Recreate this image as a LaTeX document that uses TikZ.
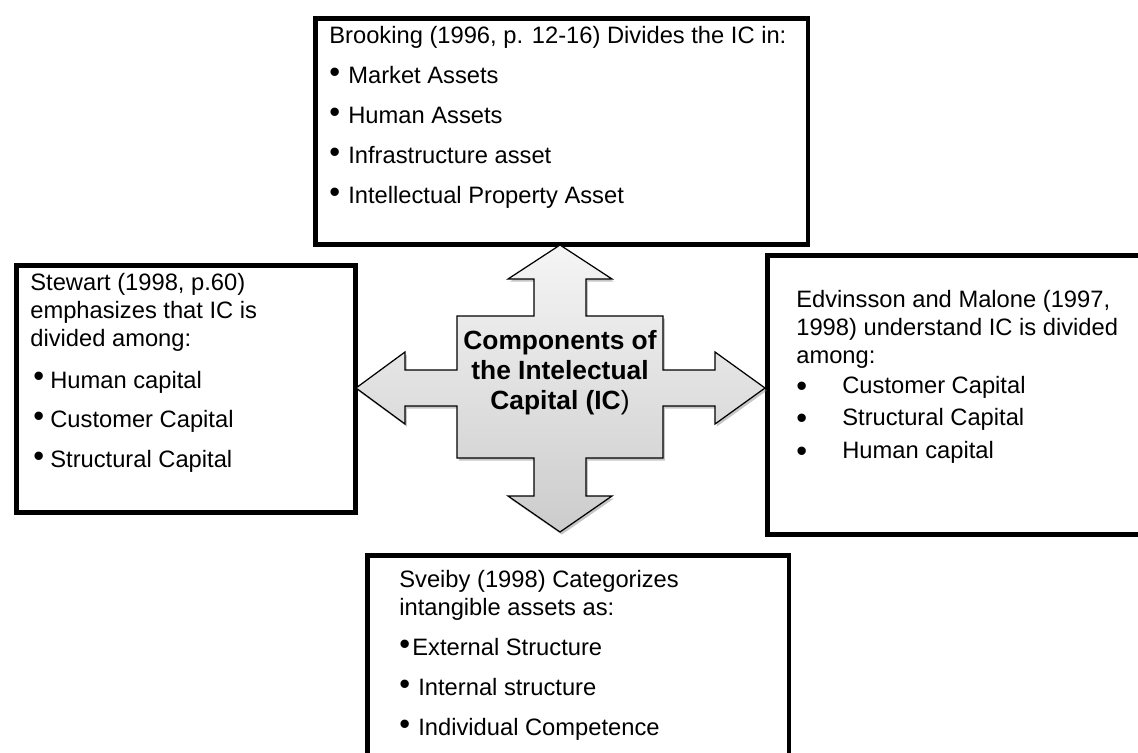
\documentclass[tikz,border=0pt]{standalone}
\usepackage{fontspec}
\setmainfont{Liberation Sans}
\usepackage{tikz}
\usetikzlibrary{positioning,shadows}

\newcommand{\hibullet}{\raisebox{0.6pt}{\scalebox{1.3}{\textbullet}}}
\newcommand{\lobullet}{\raisebox{-1.8pt}{\scalebox{1.3}{\textbullet}}}

\begin{document}
\begin{tikzpicture}[x=0.02cm, y=-0.02cm,
    panel/.style={rectangle, draw, line width=2.6pt, anchor=north west, inner sep=0pt},
    note/.style={anchor=north west, align=left, inner sep=0pt, font=\fontsize{13.5}{16}\selectfont},
    core/.style={align=center, inner sep=0pt, font=\bfseries\fontsize{15}{17}\selectfont},
    cross/.style={draw, line width=0.7pt, miter limit=10, top color=gray!8, bottom color=gray!40,
        drop shadow={shadow xshift=1pt, shadow yshift=-1.5pt, opacity=0.45}}]
    \useasboundingbox (0,0) rectangle (1138,753);
    \clip (0,0) rectangle (1138,753);

    \node[panel, minimum width=9.86cm, minimum height=4.52cm] (brooking) at (313,16) {};
    \node[panel, minimum width=6.78cm, minimum height=4.94cm] (stewart) at (14,263) {};
    \node[panel, minimum width=7.7cm, minimum height=5.58cm] (edvinsson) at (765,253) {};
    \node[panel, minimum width=8.44cm, minimum height=4.34cm] (sveiby) at (365,553) {};

    \draw[cross, shift={(560,388)}] (0,-143) -- (52,-109) -- (26,-109) -- (26,-72) -- (103,-72)
        -- (103,-18) -- (155,-18) -- (155,-36) -- (205,0) -- (155,36) -- (155,18) -- (103,18)
        -- (103,70) -- (26,70) -- (26,108) -- (52,108) -- (0,144) -- (-52,108) -- (-26,108)
        -- (-26,70) -- (-103,70) -- (-103,18) -- (-155,18) -- (-155,36) -- (-204,0) -- (-155,-36)
        -- (-155,-18) -- (-103,-18) -- (-103,-72) -- (-26,-72) -- (-26,-109) -- (-52,-109) -- cycle;
    \node[core] (core) at (560,373) {Components of\\the Intelectual\\Capital (IC\textmd{)}};

    \node[note] (brookingtext) at (329,26) {Brooking (1996, p. 12-16) Divides the IC in:\\[6.7pt]
        \makebox[0.38cm][l]{\hibullet}Market Assets\\[6.7pt]
        \makebox[0.38cm][l]{\hibullet}Human Assets\\[6.7pt]
        \makebox[0.38cm][l]{\hibullet}Infrastructure asset\\[6.7pt]
        \makebox[0.38cm][l]{\hibullet}Intellectual Property Asset};
    \node[note] (stewarttext) at (30,273) {Stewart (1998, p.60)\\
        emphasizes that IC is\\
        divided among:\\[7.5pt]
        \hspace{0.06cm}\makebox[0.34cm][l]{\hibullet}Human capital\\[6.5pt]
        \hspace{0.06cm}\makebox[0.34cm][l]{\hibullet}Customer Capital\\[6.5pt]
        \hspace{0.06cm}\makebox[0.34cm][l]{\hibullet}Structural Capital};
    \node[note] (edvinssontext) at (796,290) {Edvinsson and Malone (1997,\\
        1998) understand IC is divided\\
        among:\\[1pt]
        \makebox[0.92cm][l]{\lobullet}Customer Capital\\[2.2pt]
        \makebox[0.92cm][l]{\lobullet}Structural Capital\\[2.7pt]
        \makebox[0.92cm][l]{\lobullet}Human capital};
    \node[note] (sveibytext) at (399,570) {Sveiby (1998) Categorizes\\
        intangible assets as:\\[6.7pt]
        \makebox[0.26cm][l]{\hibullet}External Structure\\[6.7pt]
        \makebox[0.38cm][l]{\hibullet}Internal structure\\[6.7pt]
        \makebox[0.38cm][l]{\hibullet}Individual Competence};
\end{tikzpicture}
\end{document}
